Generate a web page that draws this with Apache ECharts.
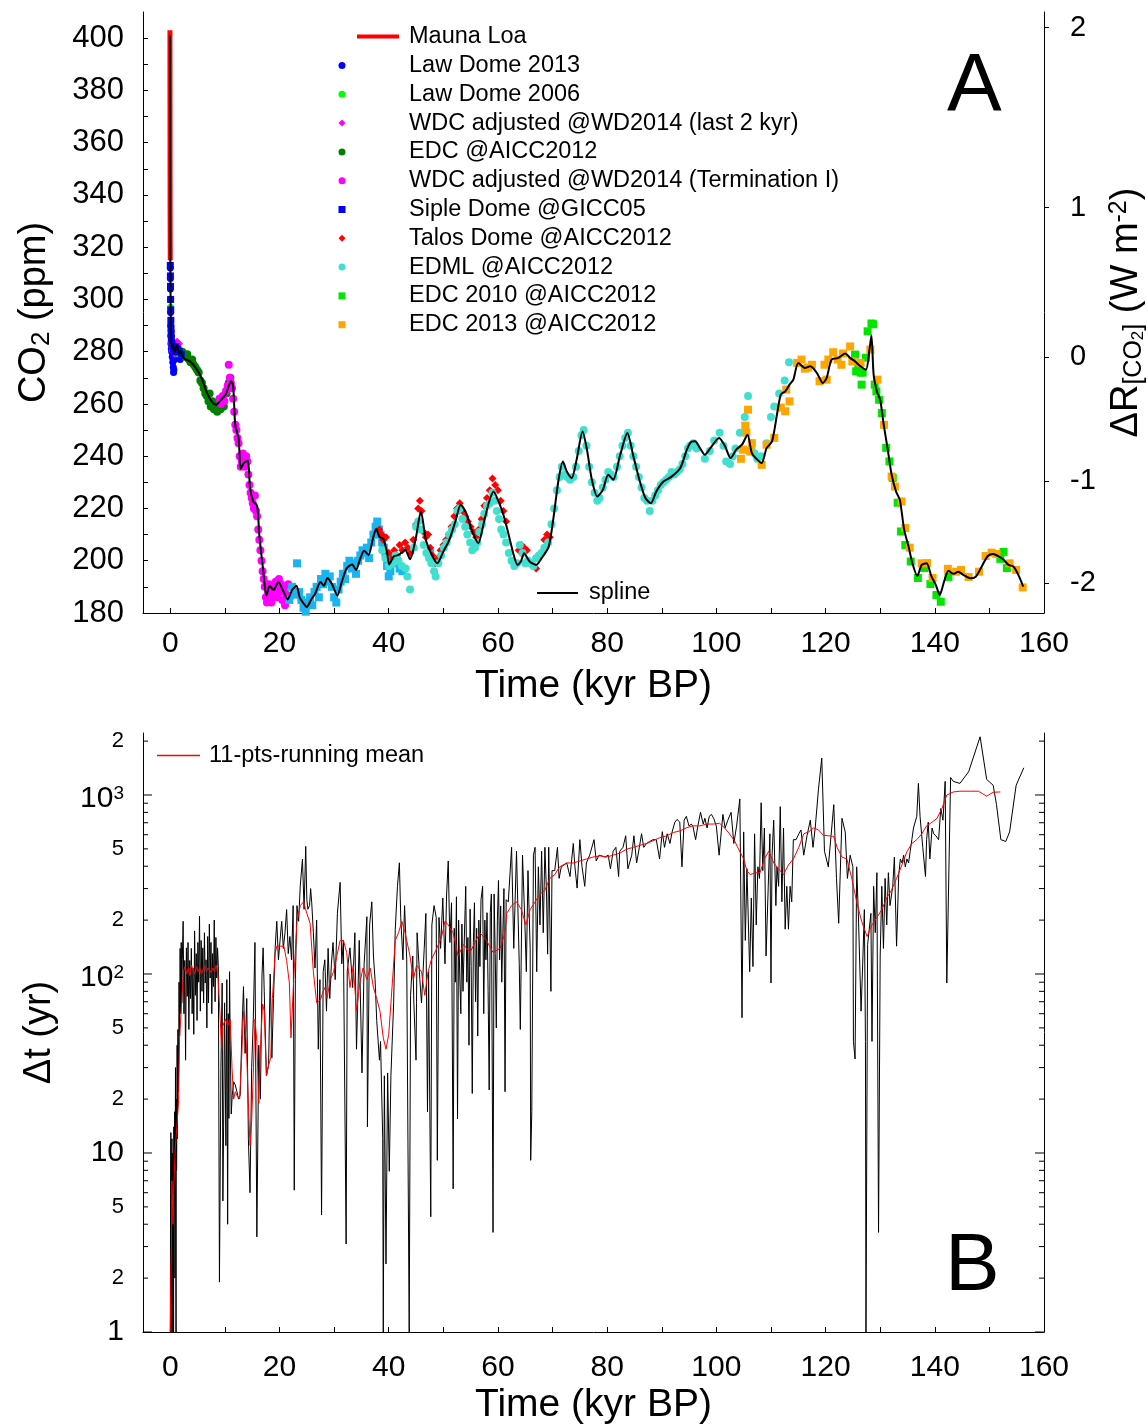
<!DOCTYPE html>
<html><head><meta charset="utf-8">
<script src="https://cdn.jsdelivr.net/npm/echarts@6/dist/echarts.min.js"></script>
<style>html,body{margin:0;padding:0;background:#fff}#c{width:1148px;height:1425px}</style>
</head><body><div id="c"></div>
<script>
// ---------- Axis ticks / labels ----------
const xTickVals = [0,10,20,30,40,50,60,70,80,90,100,110,120,130,140,150,160];
const xLabelVals = [0,20,40,60,80,100,120,140,160];
const aYTickVals = [180,190,200,210,220,230,240,250,260,270,280,290,300,310,320,330,340,350,360,370,380,390,400];
const aYLabelVals = [180,200,220,240,260,280,300,320,340,360,380,400];
const rfTickVals = [-2,-1,0,1,2];            // Delta R (W m-2)
const bYTickVals = [1,2,3,4,5,6,7,8,9,10,20,30,40,50,60,70,80,90,100,200,300,400,500,600,700,800,900,1000,2000];
const bYMajor = [1,10,100,1000];
const bYLabelVals = [1,2,5,10,20,50,100,200,500,1000,2000];
const bYLabelText = ['1','2','5','10','2','5','10^2','2','5','10^3','2'];

// ---------- Panel A data (time kyr BP, CO2 ppm) ----------
const maunaLoa = [[-0.008,315],[-0.015,320],[-0.025,326],[-0.035,335],[-0.045,350],[-0.055,375],[-0.06,390],[-0.065,403]];
const lawDome2013 = [[0.0,312],[0.01,308],[0.02,304],[0.03,300],[0.05,295],[0.07,290],[0.09,286],[0.12,283],[0.18,281],[0.25,280],[0.35,278],[0.45,276],[0.55,274],[0.6,272],[0.65,273],[0.75,277],[0.9,279],[1.05,280],[1.2,281],[1.35,280],[1.5,279],[1.65,278],[1.8,277],[1.95,279]];
const lawDome2006 = [[0.05,297],[0.15,284],[0.4,281],[0.8,280],[1.2,281],[1.6,279]];
const wdc2k = [[0.05,283],[0.2,282],[0.35,284],[0.5,280],[0.65,282],[0.8,279],[0.95,283],[1.1,281],[1.25,284],[1.4,282],[1.55,280],[1.7,283],[1.85,281],[2.0,279]];
const edc = [[2.2,280],[2.5,279],[2.8,278],[3.1,279],[3.4,277],[3.7,276],[4.0,277],[4.3,275],[4.6,274],[4.9,273],[5.2,272],[5.5,269],[5.8,268],[6.1,266],[6.4,264],[6.7,263],[7.0,261],[7.2,264],[7.4,259],[7.7,261],[8.0,258],[8.3,260],[8.6,257],[8.9,259],[9.2,258],[9.5,261],[9.8,259],[10.3,264],[10.7,268],[11.0,270]];
const wdcTerm = [[9.0,262],[9.3,260],[9.6,263],[9.9,261],[10.2,265],[10.5,267],[10.7,275],[10.9,270],[11.1,268],[11.3,266],[11.5,262],[11.7,257],[11.9,252],[12.1,250],[12.3,247],[12.5,245],[12.7,240],[12.9,236],[13.1,238],[13.3,241],[13.5,239],[13.7,236],[13.9,240],[14.1,238],[14.3,233],[14.5,229],[14.7,226],[14.9,224],[15.1,222],[15.3,220],[15.5,225],[15.7,219],[15.9,217],[16.1,212],[16.3,208],[16.5,204],[16.7,200],[16.9,196],[17.1,193],[17.3,190],[17.5,186],[17.7,184],[17.9,188],[18.1,191],[18.3,187],[18.5,184],[18.7,190],[18.9,186],[19.1,189],[19.3,192],[19.5,186],[19.7,190],[19.9,193],[20.1,188],[20.3,191],[20.5,185],[20.8,189],[21.0,183],[21.3,187],[21.6,191],[21.9,186]];
const sipleDome = [[0.0,313],[0.02,309],[0.04,305],[0.06,300],[0.08,296],[0.1,292],[0.13,289],[0.16,287],[0.2,285],[0.3,283],[0.45,282],[0.6,281],[0.8,280],[1.0,282],[1.3,281],[1.6,280],[2.0,279]];
const byrd = [[21.8,185],[22.3,190],[22.8,187],[23.2,199],[23.6,188],[24.0,185],[24.4,182],[24.8,180.5],[25.2,184],[25.6,186],[26.0,183],[26.4,188],[26.8,190],[27.2,186],[27.6,193],[28.0,191],[28.4,195],[28.8,192],[29.2,194],[29.6,190],[30.0,186],[30.4,184],[30.8,189],[31.2,192],[31.6,195],[32.0,193],[32.4,198],[32.8,200],[33.2,197],[33.6,199],[34.0,195],[34.4,200],[34.8,202],[35.2,204],[35.6,203],[36.0,205],[36.4,201],[36.8,207],[37.2,210],[37.6,213],[37.9,215],[38.2,212],[38.5,210],[38.8,207],[39.1,205],[39.4,203],[39.7,198],[40.0,194],[40.3,196],[40.6,199],[41.0,201],[41.5,200],[42.0,197],[42.5,196],[47.6,203]];
const talos = [[38.3,212],[38.7,210],[39.0,208],[39.5,209],[40.0,203],[40.5,201],[41.0,204],[41.5,202],[42.0,206],[42.5,204],[43.0,207],[43.5,205],[44.0,203],[44.5,208],[45.0,214],[45.4,220],[45.7,223],[46.0,219],[46.4,211],[46.8,209],[47.2,210],[47.6,205],[48.0,202],[48.5,199],[49.0,201],[49.5,204],[50.0,206],[50.5,208],[51.0,210],[51.5,213],[52.0,217],[52.5,220],[53.0,222],[53.5,219],[54.0,217],[54.5,215],[55.0,213],[55.5,211],[56.0,209],[56.5,212],[57.0,216],[57.5,221],[58.0,224],[58.5,227],[59.0,231.5],[59.5,229],[60.0,227],[60.5,223],[61.0,219],[61.5,215],[63.8,204],[64.3,206],[64.8,205],[65.3,204],[67.0,197],[68.5,208],[69.0,210],[69.5,209]];
const edml = [[38.8,204],[39.4,201],[40.0,198],[40.7,199],[41.3,202],[41.8,200],[42.4,198],[43.1,197],[43.4,194],[43.9,189],[44.6,205],[45.0,213],[45.4,215],[45.9,212],[46.4,206],[46.9,203],[47.4,201],[47.8,199],[48.3,196],[48.6,194],[49.1,199],[49.6,202],[50.1,205],[50.6,207],[51.1,210],[51.6,212],[52.1,214],[52.6,219],[53.0,220],[53.5,216],[54.0,213],[54.4,210],[54.9,207],[55.3,204],[55.8,205],[56.2,207],[56.6,211],[57.1,214],[57.5,218],[58.0,221],[58.5,222],[59.0,226],[59.4,223],[59.8,219],[60.2,216],[60.6,212],[61.0,210],[61.5,207],[62.0,203],[62.5,200],[63.0,198],[63.5,199],[64.0,206],[64.5,203],[65.0,199],[65.5,200],[66.0,199],[66.5,198],[67.0,201],[67.5,202],[68.0,203],[68.5,205],[69.2,207],[69.8,214],[70.3,220],[70.8,227],[71.3,232],[71.7,236],[72.2,233],[72.7,232],[73.2,231],[73.8,232],[74.3,236],[74.8,242],[75.3,248],[75.7,250],[76.2,244],[76.7,236],[77.2,230],[77.7,226],[78.2,223],[78.6,224],[79.2,228],[79.7,231],[80.2,234],[80.7,233],[81.2,232],[81.8,236],[82.3,240],[82.8,244],[83.3,247],[83.8,249],[84.3,244],[84.8,240],[85.3,236],[85.8,232],[86.3,228],[86.8,224],[87.3,223],[87.8,219],[88.3,223],[88.8,225],[89.3,227],[89.8,229],[90.3,230],[90.8,231],[91.3,232],[91.8,234],[92.3,233],[92.8,234],[93.3,235],[93.8,237],[94.3,240],[94.8,243],[95.2,244],[95.8,245],[96.4,243],[97.9,239],[98.8,242],[99.6,246],[100.6,249],[101.3,244],[101.8,238],[102.5,237],[103.0,240],[103.5,243],[104.3,249],[105.2,255],[105.8,263],[106.4,243],[107.0,241],[107.5,239],[108.2,240],[109.2,245],[110.0,255],[110.6,259],[111.5,264],[112.5,269],[113.3,276]];
const edc2010 = [[125.4,278.9],[125.6,272.5],[126.0,275],[126.4,272],[126.6,267.4],[126.8,272],[127.4,277.7],[127.7,287.8],[128.4,290.8],[128.7,290.5],[129.0,267.4],[129.3,264.8],[129.8,261.6],[130.3,256.5],[131.1,243.2],[131.7,238],[132.3,231.7],[133.2,222.2],[133.8,211.2],[134.6,206],[135.6,199.7],[136.9,193.4],[138.1,197.2],[139.2,191.1],[140.3,186.9],[141.1,184.3],[142.5,193.8],[152.0,200.7],[152.6,203.4],[153.2,197.2]];
const edc2013 = [[104.5,239],[104.9,242.5],[105.3,251.7],[105.5,249],[105.8,257.8],[106.2,241.8],[106.5,245],[108.3,236.7],[109.2,244.4],[110.6,247],[111.8,258.6],[112.6,257.2],[112.8,265.5],[113.4,261],[114.8,275.7],[115.6,277],[116.2,273.5],[116.8,273.9],[117.5,275],[118.9,268.7],[119.8,275],[120.2,269.3],[120.5,277],[121.4,279.8],[122.2,277],[122.9,275],[123.2,279.3],[124.5,282],[124.9,276.3],[126.4,275.7],[128.2,280.8],[129.5,269.3],[130.7,252],[132.1,232.2],[132.7,228.4],[133.9,222.7],[134.6,212.5],[135.4,205],[137.6,199],[138.6,199.1],[139.6,193.4],[142.4,196.9],[143.9,195.8],[144.8,196.5],[146.2,193.8],[148.1,195.8],[149.3,201.8],[150.4,203.1],[151.3,202.6],[153.7,199],[154.9,196.5],[156.1,189.8]];
const spline = [[-0.065,401],[-0.04,372],[-0.02,345],[0,318],[0.1,290],[0.25,281],[0.43,282.8],[0.8,279.9],[1.2,282.6],[1.65,279],[1.95,280.2],[2.4,277.6],[3.66,276.2],[4.9,273.1],[5.8,269.5],[6.7,264.3],[7.6,260.9],[8.4,259.7],[9.15,261.3],[10.1,263.5],[10.7,266.8],[11.1,268.7],[11.5,267.2],[11.9,251.7],[12.5,247],[12.9,235.2],[13.5,237.5],[14.2,238.3],[14.6,228],[15.2,222.6],[15.9,221],[16.3,209.9],[17.0,196.5],[17.6,186.7],[18.2,190.4],[18.9,188.8],[19.8,191.9],[20.6,188.8],[21.5,185.2],[22.3,188.8],[23.1,190.4],[23.7,185.9],[24.4,183.7],[25.0,182.3],[25.8,185.2],[26.5,187.3],[27.5,191.9],[28.1,190.4],[28.8,193.4],[29.6,191.1],[30.6,186.7],[31.4,191.9],[32.3,197.1],[33.3,198.6],[34.0,196.5],[34.8,200.9],[35.5,203.8],[36.3,202.2],[37.1,208.4],[37.7,212.2],[38.3,209.1],[39.0,208.4],[39.7,203.1],[40.1,198.6],[40.9,201.6],[41.8,202.2],[43.0,204.1],[43.9,200.6],[44.9,208],[45.9,218.8],[46.8,208],[47.9,202.2],[48.9,199],[50.0,203.5],[51.1,208],[52.2,215],[53.2,221.4],[54.2,218.2],[55.2,211.8],[56.4,206.7],[57.4,214.4],[58.3,222],[59.2,226.5],[60.1,222.7],[61.0,217.6],[61.9,210.5],[62.8,202.9],[63.6,198.4],[64.2,199.7],[64.8,202.9],[65.8,199.7],[67.0,198.4],[68.0,201],[69.3,205.4],[70.2,216.9],[71.1,231],[71.9,238],[72.6,234.2],[73.5,231.6],[74.4,238.6],[75.5,249.5],[76.3,242.5],[77.2,231],[78.2,224.6],[79.2,227.1],[80.2,232.9],[81.1,231],[82.4,240.6],[83.7,248.9],[84.8,240],[85.9,231],[87.0,224],[88.0,222],[89.0,226.5],[90.3,230.3],[91.8,232.2],[93.4,235.5],[94.6,242.5],[95.4,245.5],[96.1,245.7],[97.0,243.1],[97.9,240.6],[98.9,243.1],[100.5,247],[101.6,243.8],[102.6,239.3],[103.7,242.7],[104.7,244.4],[105.7,248.2],[106.5,241.2],[107.4,238.9],[108.3,237.4],[109.2,243.1],[110.2,245.7],[111.2,257.2],[111.8,263.6],[112.6,264.8],[113.4,267.4],[114.1,269.3],[115.0,275.7],[116.2,273.8],[117.2,274.4],[118.4,271.9],[119.5,268],[120.2,270],[121.1,277],[122.3,277.6],[123.6,279.3],[124.5,277.6],[125.4,276.3],[126.4,274.4],[127.4,273.1],[128.0,280.2],[128.4,286.2],[128.8,271.2],[129.4,264.8],[130.0,261.6],[130.6,252.7],[131.3,243.7],[132.1,232.9],[132.9,226.5],[133.6,223.3],[134.4,211.8],[135.2,205.4],[135.9,199],[136.8,194.2],[137.6,198.4],[138.5,199],[139.4,193.9],[140.2,190.7],[140.9,186.9],[141.7,192],[142.5,196.2],[143.4,195],[144.3,195.8],[145.2,194.6],[146.5,193.3],[147.5,193.9],[148.6,197.8],[149.7,201.8],[150.7,202.6],[151.6,201.8],[152.5,200.6],[153.5,198.4],[154.4,197.8],[155.3,194.6],[156.2,190.1]];

// ---------- Panel B data (time kyr BP, time step yr) ----------
const dtRaw = [[0.0,1],[0.05,6],[0.1,13],[0.15,1],[0.2,2.6],[0.25,9],[0.3,12],[0.35,1],[0.4,4],[0.45,10],[0.5,3],[0.55,8],[0.6,1],[0.65,14],[0.7,5],[0.75,11],[0.8,17],[0.85,2],[0.9,9],[0.95,30],[1.0,6],[1.05,1],[1.1,20],[1.15,8],[1.2,14],[1.25,40],[1.3,12],[1.35,25],[1.4,49],[1.5,22],[1.6,90],[1.7,45],[1.8,139],[1.9,60],[2.0,150],[2.1,69],[2.2,120],
[2.35,197],[2.5,60],[2.65,119],[2.8,33],[2.95,140],[3.1,75],[3.25,150],[3.4,49],[3.55,119],[3.7,73],[3.85,139],[4.0,60],[4.15,108],[4.3,46],[4.45,174],[4.6,76],[4.75,130],[4.9,55],[5.05,150],[5.2,90],[5.35,210],[5.5,62],[5.65,154],[5.8,80],[5.95,140],[6.1,69],[6.25,170],[6.4,89],[6.55,120],[6.7,50],[6.85,162],[7.0,69],[7.15,190],[7.3,95],[7.45,150],[7.6,60],[7.75,130],[7.9,85],[8.05,200],[8.2,70],[8.35,160],[8.5,95],[8.65,140],[8.8,110],
[9.0,1.9],[9.27,30],[9.5,89],[9.63,5.4],[9.76,14],[9.94,69],[10.18,11],[10.35,93],[10.5,4],[10.62,60],[10.73,15.6],[10.85,103],[10.98,40],[11.16,16.5],[11.34,21],[11.6,25],[11.9,24],[12.2,22],[12.5,20],[12.8,21],[13.1,46],[13.4,85],[13.7,36],[14.0,73],[14.3,12],[14.6,6],[14.9,30],[15.2,56],[15.5,150],[15.85,3.4],[16.2,40],[16.5,20],[16.8,100],[17.0,140],[17.2,80],[17.6,27],[18.0,31],[18.3,100],[18.6,34],[18.9,73],[19.2,140],[19.5,197],[19.8,120],[20.1,154],[20.4,197],[20.7,139],[21.0,170],[21.3,229],[21.6,130],[21.9,162],[22.2,120],[22.5,241],[22.7,6.2],[22.9,93],[23.2,241],[23.5,197],[23.8,310],[24.2,438],[24.5,230],[24.8,517],[25.0,260],[25.2,230],[25.5,241],[25.7,300],[25.9,250],[26.2,170],[26.5,108],[26.8,200],[27.1,38],[27.4,93],[27.7,4.5],[28.0,103],[28.3,120],[28.6,62],[28.9,139],[29.2,73],[29.5,114],[29.8,150],[30.2,93],[30.6,218],[31.1,325],[31.4,114],[31.7,154],[32.2,3.1],[32.4,103],[32.9,140],[33.4,84],[33.8,170],[34.1,38],[34.6,154],[35.1,28],[35.5,114],[36.0,209],[36.1,14],[36.5,188],[36.9,253],[37.2,126],[37.5,93],[37.8,55],[38.3,33],[38.5,42],[38.9,12],[39.0,1],[39.2,27],[39.5,2.4],[39.8,28],[40.1,7.9],[40.4,27],[40.9,69],[41.2,178],[41.6,309],[41.95,418],[42.2,207],[42.6,120],[42.9,241],[43.3,120],[43.75,1],[44.0,76],[44.4,126],[44.6,69],[45.0,33],[45.2,170],[45.7,93],[46.0,69],[46.5,139],[46.8,218],[47.1,17],[47.3,103],[47.7,4.4],[47.9,188],[48.3,241],[48.7,207],[48.9,9.1],[49.2,207],[49.5,139],[49.9,266],[50.3,114],[50.6,280],[50.9,428],
[51.2,150],[51.5,250],[51.8,6.3],[52.0,180],[52.2,90],[52.4,270],[52.6,15.5],[52.8,200],[53.0,100],[53.2,60],[53.4,190],[53.6,80],[53.8,140],[54.1,309],[54.3,90],[54.5,160],[54.7,40],[54.9,230],[55.1,110],[55.3,21.5],[55.5,150],[55.7,250],[55.9,70],[56.1,180],[56.3,45],[56.5,200],[56.7,110],[56.9,260],[57.2,309],[57.4,60],[57.6,200],[57.8,120],[58.0,220],[58.2,80],[58.4,22.5],[58.6,220],[58.8,280],[59.1,3.6],[59.3,280],[59.5,130],[59.7,50],[59.9,200],[60.1,333],[60.3,120],[60.5,240],[60.7,90],[60.9,170],[61.1,300],[61.3,22],[61.5,260],
[61.9,253],[62.5,510],[62.9,139],[63.4,485],[63.9,114],[64.1,49],[64.5,461],[64.9,207],[65.2,103],[65.5,378],[65.9,139],[66.0,9.1],[66.2,17],[66.5,461],[66.8,510],[67.1,103],[67.4,397],[67.7,188],[68.0,485],[68.3,170],[68.6,510],[68.9,280],[69.1,129],[69.3,510],[69.7,80],[69.9,378],[70.4,378],[70.9,510],[71.2,342],[71.6,397],[72.1,407],[72.6,417],[73.2,350],[73.8,536],[74.1,397],[74.5,302],[75.0,563],[75.4,397],[75.9,309],[76.2,417],[76.8,461],[77.6,563],[78.0,428],[78.5,461],[79.0,457],[79.6,450],[80.2,461],[80.6,387],[81.1,485],[81.6,510],[82.1,350],[82.3,485],[82.9,510],[83.4,592],[83.8,387],[84.5,461],[84.9,592],[85.4,417],[85.9,510],[86.3,607],[86.7,510],[87.2,536],[87.8,550],[88.4,563],[89.0,563],[89.6,439],[90.1,624],[90.5,510],[91.0,607],[91.5,536],[91.9,622],[92.4,705],[92.8,730],[93.3,705],[93.7,397],[94.1,723],[94.5,760],[95.0,670],[95.4,688],[95.7,670],[96.2,563],[96.6,670],[97.1,800],[97.6,688],[97.9,741],[98.3,654],[98.7,760],[99.1,779],[99.5,741],[100.0,670],[100.5,461],[100.9,622],[101.2,779],[101.6,654],[102.1,723],[102.7,800],[103.2,536],[103.7,670],[104.3,951],
[104.7,57],[105.0,622],[105.3,154],[105.6,387],[105.9,378],[106.1,103],[106.4,266],[106.7,110],[107.0,607],[107.3,188],[107.6,397],[107.9,342],[108.2,905],[108.5,378],[108.8,654],[109.1,126],[109.5,309],[109.8,607],[110.0,89],[110.2,461],[110.5,723],[110.9,241],[111.1,397],[111.4,309],[111.7,861],[112.0,253],[112.3,654],[112.6,178],[112.9,309],[113.2,178],[113.5,309],[113.8,253],[114.1,563],[114.6,563],[115.1,607],[115.5,638],[116.0,461],[116.6,592],[117.2,723],[117.7,510],[118.1,654],[118.7,1078],[119.3,1607],[119.8,485],[120.5,397],[121.0,592],[121.5,883],[122.0,342],[122.4,192],[123.0,741],[123.6,622],[124.0,342],[124.5,461],[125.0,397],[125.1,42],[125.4,33.5],[125.7,397],[126.0,218],[126.5,62],[126.8,114],[127.1,229],[127.3,42],[127.4,1],[127.7,146],[128.0,178],[128.3,218],[128.5,42],[128.8,309],[129.1,170],[129.4,368],[129.7,3.6],[130.0,126],[130.3,309],[130.6,139],[130.9,342],[131.2,188],[131.5,368],[131.8,241],[132.3,309],[132.6,450],[133.0,143],[133.4,359],[133.7,439],[134.0,417],[134.3,461],[134.6,397],[134.9,439],[135.2,417],[135.5,485],[135.8,563],[136.1,654],[136.7,760],[137.0,1161],[137.3,760],[137.8,510],[138.3,350],[138.5,563],[138.8,705],[139.1,439],[139.5,654],[139.8,607],[140.2,592],[140.7,563],[141.1,840],[141.5,723],[141.9,1191],[142.2,89],[142.9,1252],[143.4,1191],[144.6,1161],[146.2,1349],[148.3,2115],[149.5,1222],[150.7,1133],[151.3,883],[152.1,563],[153.0,550],[153.7,622],[154.9,1133],[156.3,1419]];
const dtMean = [[0.0,1],[0.1,2],[0.2,3],[0.3,7],[0.5,4],[0.6,6],[0.9,10.5],[1.2,14],[1.5,19],[1.7,44],[2.4,103],[2.7,110],[3.0,100],[3.3,108],[3.6,98],[3.9,112],[4.2,104],[4.5,100],[4.8,110],[5.1,103],[5.4,108],[5.7,100],[6.0,105],[6.3,112],[6.6,103],[6.9,108],[7.2,110],[7.5,102],[7.8,108],[8.1,104],[8.4,112],[8.7,100],[9.0,69],[9.4,38],[9.6,51],[10.1,56],[10.5,51],[10.98,56],[11.3,30],[11.6,20],[11.9,22],[12.2,21],[12.7,20],[13.1,36],[13.4,62],[13.9,42],[14.3,19],[14.6,11],[14.9,15],[15.2,28],[15.5,56],[15.85,42],[16.2,19],[16.5,38],[16.9,68],[17.2,62],[17.6,27],[18.0,31],[18.4,34],[18.7,73],[19.2,130],[19.5,143],[20.2,143],[20.8,143],[21.3,119],[21.8,89],[22.1,44],[22.6,93],[23.2,197],[23.8,241],[24.4,253],[25.0,218],[25.6,192],[26.2,103],[26.8,69],[27.5,72],[28.0,80],[28.3,84],[28.7,73],[29.3,93],[29.9,103],[31.1,154],[31.7,154],[32.3,132],[32.9,84],[33.5,112],[34.1,62],[34.7,89],[35.3,108],[36.0,93],[36.6,108],[37.2,84],[37.8,73],[38.4,62],[39.0,44],[39.5,38],[40.0,46],[40.6,84],[41.2,154],[41.8,170],[42.4,197],[43.0,170],[43.9,126],[44.5,93],[45.1,112],[46.0,103],[46.6,76],[47.2,103],[47.8,120],[48.8,139],[49.7,162],[50.3,197],[50.9,188],
[51.8,170],[52.7,126],[53.7,146],[54.9,132],[55.8,150],[56.7,170],[57.9,154],[59.1,132],[60.4,139],[61.3,170],[61.6,218],[62.5,241],[63.4,253],[64.3,229],[65.1,188],[65.9,229],[66.8,253],[67.7,280],[68.6,294],[69.5,342],[70.4,359],[71.3,397],[72.6,417],[73.8,417],[75.0,428],[76.2,439],[77.4,450],[78.7,457],[79.9,450],[81.1,461],[82.3,473],[83.5,497],[84.8,510],[86.0,523],[87.2,536],[88.4,555],[89.6,577],[90.9,592],[92.1,617],[93.3,630],[94.5,655],[95.7,672],[97.0,672],[98.2,688],[99.4,688],[100.6,695],[101.5,655],[102.4,607],[103.4,549],[104.3,482],
[105.0,439],[105.6,377],[106.2,359],[107.1,368],[108.0,368],[108.8,439],[109.6,485],[110.5,417],[111.4,387],[112.3,359],[113.2,407],[114.1,439],[115.1,510],[116.0,607],[116.9,622],[117.8,655],[118.7,638],[119.6,595],[120.5,592],[121.5,587],[122.1,510],[123.0,450],[123.9,439],[124.8,342],[125.7,253],[126.6,197],[127.6,162],[128.5,188],[129.4,207],[130.3,229],[131.2,266],[132.1,295],[133.0,342],[134.0,408],[134.9,482],[135.8,536],[136.7,563],[137.6,606],[138.5,672],[139.5,705],[140.4,740],[141.3,840],[142.2,1000],[143.4,1040],[144.6,1050],[146.5,1050],[148.0,1050],[149.5,985],[150.7,1036],[152.0,1040]];

// ---------- Chart ----------
const FONT = 'Liberation Sans';
const X_MIN = -5, X_MAX = 160;
const RF0 = 278, RFK = 5.35;
const rfCO2 = rfTickVals.map(r => RF0 * Math.exp(r / RFK));

const chart = echarts.init(document.getElementById('c'), null, {renderer: 'canvas'});
const blk = '#000';
const axLine = {show: true, onZero: false, lineStyle: {color: blk, width: 1}};
function scat(name, data, symbol, color, size) {
  return {name, type: 'scatter', xAxisIndex: 0, yAxisIndex: 0, data, symbol, symbolSize: size,
    itemStyle: {color, opacity: 1}, silent: true};
}
const bRich = {
  n: {fontSize: 30, fontFamily: FONT, fill: blk, color: blk},
  m: {fontSize: 22, fontFamily: FONT, fill: blk, color: blk},
  p: {fontSize: 19, fontFamily: FONT, fill: blk, color: blk, verticalAlign: 'top', lineHeight: 12}
};
function bLabel(t) {
  if (t.indexOf('^') >= 0) { const p = t.split('^'); return '{n|' + p[0] + '}{p|' + p[1] + '}'; }
  return (t === '1' || t === '10') ? '{n|' + t + '}' : '{m|' + t + '}';
}
const xAxisCommon = (gi, margin) => ({
  gridIndex: gi, type: 'value', min: X_MIN, max: X_MAX,
  axisLine: axLine,
  axisTick: {show: true, inside: true, length: 5, customValues: xTickVals, lineStyle: {color: blk}},
  axisLabel: {customValues: xLabelVals, fontSize: 30, color: blk, margin: margin, fontFamily: FONT},
  splitLine: {show: false},
  name: 'Time (kyr BP)', nameLocation: 'middle', nameGap: 54,
  nameTextStyle: {fontSize: 39, color: blk, fontFamily: FONT}
});

const option = {
  animation: false,
  backgroundColor: '#fff',
  textStyle: {fontFamily: FONT},
  grid: [
    {left: 143, right: 104, top: 12, height: 601, containLabel: false, outerBoundsMode: 'none'},
    {left: 143, right: 104, top: 733, height: 599, containLabel: false, outerBoundsMode: 'none'}
  ],
  xAxis: [xAxisCommon(0, 16), xAxisCommon(1, 21)],
  yAxis: [
    {gridIndex: 0, type: 'value', min: 180, max: 410, position: 'left',
     axisLine: axLine,
     axisTick: {show: true, inside: true, length: 5, customValues: aYTickVals, lineStyle: {color: blk}},
     axisLabel: {customValues: aYLabelVals, fontSize: 31, color: blk, margin: 19, fontFamily: FONT, padding: [4, 0, 0, 0]},
     splitLine: {show: false},
     name: '{a|CO}{s|2}{a| (ppm)}', nameLocation: 'middle', nameRotate: 90, nameGap: 88,
     nameTextStyle: {rich: {
       a: {fontSize: 38, fontFamily: FONT, color: blk, lineHeight: 40},
       s: {fontSize: 26, fontFamily: FONT, color: blk, lineHeight: 18, verticalAlign: 'bottom'}
     }}},
    {gridIndex: 0, type: 'value', min: 180, max: 410, position: 'right',
     axisLine: axLine,
     axisTick: {show: true, inside: false, length: 5, customValues: rfCO2, lineStyle: {color: blk}},
     axisLabel: {customValues: rfCO2, fontSize: 29, color: blk, margin: 26, fontFamily: FONT,
       formatter: v => String(Math.round(RFK * Math.log(v / RF0)))},
     splitLine: {show: false},
     name: '{a|\u0394R}{s|[CO}{ss|2}{s|]}{a| (W m}{p|-2}{a|)}', nameLocation: 'middle', nameRotate: 90, nameGap: 55,
     nameTextStyle: {rich: {
       a: {fontSize: 38, fontFamily: FONT, color: blk, lineHeight: 40},
       s: {fontSize: 25, fontFamily: FONT, color: blk, lineHeight: 20, verticalAlign: 'bottom'},
       ss: {fontSize: 17, fontFamily: FONT, color: blk, lineHeight: 10, verticalAlign: 'bottom'},
       p: {fontSize: 25, fontFamily: FONT, color: blk, lineHeight: 16, verticalAlign: 'top'}
     }}},
    {gridIndex: 1, type: 'log', logBase: 10, min: 1, max: 2220, position: 'left',
     axisLine: axLine, axisTick: {show: false}, axisLabel: {show: false},
     splitLine: {show: false}, minorTick: {show: false},
     name: '\u0394t (yr)', nameLocation: 'middle', nameRotate: 90, nameGap: 84,
     nameTextStyle: {fontSize: 38, color: blk, fontFamily: FONT}},
    {gridIndex: 1, type: 'log', logBase: 10, min: 1, max: 2220, position: 'right',
     axisLine: axLine, axisTick: {show: false}, axisLabel: {show: false}, splitLine: {show: false}}
  ],
  legend: [
    {data: ['Mauna Loa'], left: 357, top: 24.5, padding: 0, orient: 'vertical', icon: 'rect',
     itemWidth: 42, itemHeight: 4, selectedMode: false,
     textStyle: {fontSize: 23.5, color: blk, fontFamily: FONT, lineHeight: 23, padding: [0, 0, 0, 5]}},
    {data: ['Law Dome 2013', 'Law Dome 2006', 'WDC adjusted @WD2014 (last 2 kyr)', 'EDC @AICC2012',
            'WDC adjusted @WD2014 (Termination I)', 'Siple Dome @GICC05', 'Talos Dome @AICC2012',
            'EDML @AICC2012', 'EDC 2010 @AICC2012', 'EDC 2013 @AICC2012'],
     left: 338.5, top: 53.5, padding: 0, orient: 'vertical', itemWidth: 7, itemHeight: 7, itemGap: 4.8,
     selectedMode: false,
     textStyle: {fontSize: 23.5, color: blk, fontFamily: FONT, lineHeight: 23, padding: [0, 0, 0, 58.5]}},
    {data: ['spline'], left: 537, top: 581, padding: 0, icon: 'rect', itemWidth: 41, itemHeight: 2,
     selectedMode: false,
     textStyle: {fontSize: 23.5, color: blk, fontFamily: FONT, lineHeight: 23, padding: [0, 0, 0, 6]}},
    {data: ['11-pts-running mean'], left: 157, top: 743.5, padding: 0, icon: 'rect', itemWidth: 43, itemHeight: 1.5,
     selectedMode: false,
     textStyle: {fontSize: 23.5, color: blk, fontFamily: FONT, lineHeight: 23, padding: [0, 0, 0, 4]}}
  ],
  graphic: [
    {type: 'text', left: 947, top: 46, silent: true, style: {text: 'A', fontSize: 82, fontFamily: FONT, fill: blk}},
    {type: 'text', left: 945, top: 1226, silent: true, style: {text: 'B', fontSize: 82, fontFamily: FONT, fill: blk}}
  ],
  series: [
    scat('Law Dome 2013', lawDome2013, 'circle', '#0000FF', 7),
    scat('Law Dome 2006', lawDome2006, 'circle', '#00FF00', 7),
    scat('WDC adjusted @WD2014 (last 2 kyr)', wdc2k, 'diamond', '#FF00FF', 7),
    scat('EDC @AICC2012', edc, 'circle', '#008000', 8),
    scat('WDC adjusted @WD2014 (Termination I)', wdcTerm, 'circle', '#FF00FF', 8),
    scat('Siple Dome @GICC05', sipleDome, 'rect', '#0000FF', 7),
    scat('Byrd', byrd, 'rect', '#1AB4F0', 8),
    scat('Talos Dome @AICC2012', talos, 'diamond', '#FF0000', 8),
    scat('EDML @AICC2012', edml, 'circle', '#40E0D0', 8),
    scat('EDC 2010 @AICC2012', edc2010, 'rect', '#00E600', 8),
    scat('EDC 2013 @AICC2012', edc2013, 'rect', '#FFA500', 8),
    {name: 'Mauna Loa', type: 'line', xAxisIndex: 0, yAxisIndex: 0, data: maunaLoa, showSymbol: false, symbol: 'none',
     lineStyle: {color: '#FF0000', width: 5}, itemStyle: {color: '#FF0000'}, silent: true, z: 3},
    {name: 'spline', type: 'line', xAxisIndex: 0, yAxisIndex: 0, data: spline, showSymbol: false, symbol: 'none',
     smooth: 0.25, lineStyle: {color: blk, width: 2}, itemStyle: {color: blk}, silent: true, z: 4},
    {name: 'dt', type: 'line', xAxisIndex: 1, yAxisIndex: 2, data: dtRaw, showSymbol: false, symbol: 'none',
     lineStyle: {color: blk, width: 1}, itemStyle: {color: blk}, silent: true, z: 3},
    {name: '11-pts-running mean', type: 'line', xAxisIndex: 1, yAxisIndex: 2, data: dtMean, showSymbol: false, symbol: 'none',
     lineStyle: {color: '#FF0000', width: 1}, itemStyle: {color: '#FF0000'}, silent: true, z: 4},
    {name: 'bTicks', type: 'custom', xAxisIndex: 1, yAxisIndex: 2, silent: true, clip: false, z: 10,
     data: bYTickVals.map(v => [X_MIN, v]), encode: {x: 0, y: 1},
     renderItem: function (params, api) {
       const v = api.value(1);
       const pl = api.coord([X_MIN, v]);
       const pr = api.coord([X_MAX, v]);
       const len = bYMajor.indexOf(v) >= 0 ? 9 : 5;
       const ch = [
         {type: 'line', shape: {x1: pl[0], y1: pl[1], x2: pl[0] + len, y2: pl[1]}, style: {stroke: blk, lineWidth: 1}},
         {type: 'line', shape: {x1: pr[0], y1: pr[1], x2: pr[0] - len, y2: pr[1]}, style: {stroke: blk, lineWidth: 1}}
       ];
       const li = bYLabelVals.indexOf(v);
       if (li >= 0) {
         const t = bYLabelText[li];
         ch.push({type: 'text', x: pl[0] - 19, y: pl[1] + (t.indexOf('^') >= 0 ? 4 : 0),
           style: {text: bLabel(t), rich: bRich, align: 'right', verticalAlign: 'middle',
             fontFamily: FONT, fontSize: 30, fill: blk}});
       }
       return {type: 'group', children: ch};
     }}
  ]
};
chart.setOption(option);
</script>
</body></html>
